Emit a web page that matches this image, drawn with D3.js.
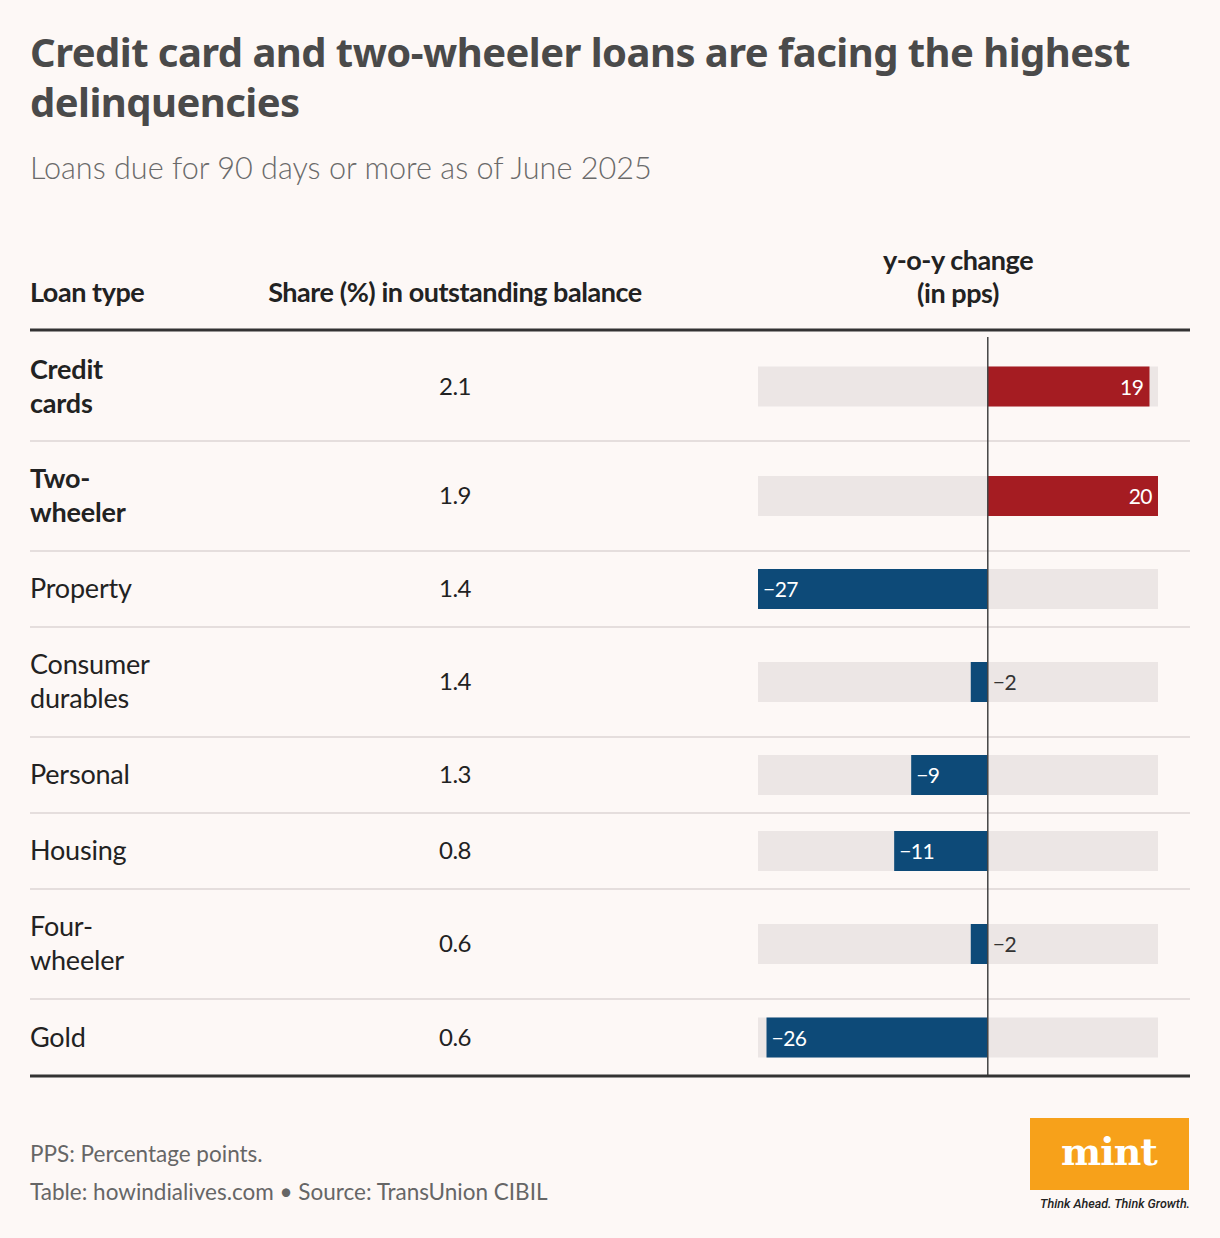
<!DOCTYPE html>
<html><head><meta charset="utf-8">
<script src="https://cdn.jsdelivr.net/npm/d3@7"></script>
<style>body{margin:0;background:#fdf8f6;}svg{display:block}</style>
</head><body><svg id="c" width="1220" height="1238"></svg>
<script>
const loanTypes = ["Credit cards","Two-wheeler","Property","Consumer durables","Personal","Housing","Four-wheeler","Gold"];
const labelLines = [["Credit","cards"],["Two-","wheeler"],["Property"],["Consumer","durables"],["Personal"],["Housing"],["Four-","wheeler"],["Gold"]];
const shares = ["2.1","1.9","1.4","1.4","1.3","0.8","0.6","0.6"];
const yoy = [19,20,-27,-2,-9,-11,-2,-26];
const boldRows = [true,true,false,false,false,false,false,false];

const svg = d3.select("#c");
const F = "Lato, 'Noto Sans', sans-serif";
svg.append("rect").attr("width",1220).attr("height",1238).attr("fill","#fdf8f6");
const T = (y,t)=>svg.append("text").attr("x",30).attr("y",y).attr("font-family","'Noto Sans',sans-serif").attr("font-weight",700).attr("font-size",40).attr("fill","#4a4a4a").attr("letter-spacing",-0.55).text(t);
T(67,"Credit card and two-wheeler loans are facing the highest");
T(117,"delinquencies");
svg.append("text").attr("x",30).attr("y",179).attr("font-family",F).attr("font-weight",300).attr("font-size",30.6).attr("fill","#6a6a6a").text("Loans due for 90 days or more as of June 2025");

const hdr = (x,y,t,a)=>svg.append("text").attr("x",x).attr("y",y).attr("text-anchor",a||"start").attr("font-family",F).attr("font-weight",700).attr("font-size",27).attr("fill","#222").attr("letter-spacing",-0.45).text(t);
hdr(30,302,"Loan type");
hdr(455,302,"Share (%) in outstanding balance","middle");
hdr(958,270,"y-o-y change","middle");
hdr(958,303,"(in pps)","middle");

const bounds = [330,441,551,627,737,813,889,999,1076];
const x = d3.scaleLinear().domain([-27,20]).range([758,1158]);
bounds.slice(1,-1).forEach(b=>svg.append("line").attr("x1",30).attr("x2",1190).attr("y1",b).attr("y2",b).attr("stroke","#ddd6d4").attr("stroke-width",1.5));

loanTypes.forEach((t,i)=>{
  const cy=(bounds[i]+bounds[i+1])/2+ (i===0?1:0);
  const lines=labelLines[i];
  lines.forEach((l,j)=>svg.append("text").attr("x",30).attr("y",cy+9+(j-(lines.length-1)/2)*34)
    .attr("font-family",F).attr("font-weight",boldRows[i]?700:400).attr("font-size",27).attr("fill","#222").attr("letter-spacing",-0.2).text(l));
  svg.append("text").attr("x",455).attr("y",cy+8).attr("text-anchor","middle").attr("font-family",F).attr("font-size",24).attr("fill","#222").attr("letter-spacing",-0.5).text(shares[i]);
  svg.append("rect").attr("x",x(-27)).attr("width",x(20)-x(-27)).attr("y",cy-20).attr("height",40).attr("fill","#ece6e5");
  const v=yoy[i];
  svg.append("rect").attr("x",Math.min(x(0),x(v))).attr("width",Math.abs(x(v)-x(0))).attr("y",cy-20).attr("height",40).attr("fill",v>0?"#a51c22":"#0d4a78");
  const inside=Math.abs(v)>=5;
  const lbl=v<0?"\u2212"+Math.abs(v):String(v);
  let tx,anc,col;
  if(inside){ if(v>0){tx=x(v)-6;anc="end";}else{tx=x(v)+5;anc="start";} col="#fff";}
  else {tx=x(0)+5;anc="start";col="#333";}
  svg.append("text").attr("x",tx).attr("y",cy+8).attr("text-anchor",anc).attr("font-family",F).attr("font-size",21).attr("fill",col).attr("letter-spacing",-0.5).text(lbl);
});
svg.append("line").attr("x1",x(0)).attr("x2",x(0)).attr("y1",337).attr("y2",1076).attr("stroke","#444").attr("stroke-width",1.5);
[330,1076].forEach(b=>svg.append("line").attr("x1",30).attr("x2",1190).attr("y1",b).attr("y2",b).attr("stroke","#333").attr("stroke-width",3));

svg.append("text").attr("x",30).attr("y",1162).attr("font-family",F).attr("font-size",22.5).attr("fill","#666").text("PPS: Percentage points.");
svg.append("text").attr("x",30).attr("y",1200).attr("font-family",F).attr("font-size",22.5).attr("fill","#666").text("Table: howindialives.com \u2022 Source: TransUnion CIBIL");
svg.append("rect").attr("x",1030).attr("y",1118).attr("width",159).attr("height",72).attr("fill","#f7a11a");
svg.append("text").attr("x",1109).attr("y",1165).attr("text-anchor","middle").attr("font-family","'DejaVu Serif',serif").attr("font-weight",700).attr("font-size",38).attr("fill","#fff").attr("letter-spacing",-1).text("mint");
svg.append("text").attr("x",1190).attr("y",1208).attr("text-anchor","end").attr("font-family","Roboto,sans-serif").attr("font-style","italic").attr("font-weight",500).attr("font-size",12.5).attr("fill","#222").text("Think Ahead. Think Growth.");
</script></body></html>
